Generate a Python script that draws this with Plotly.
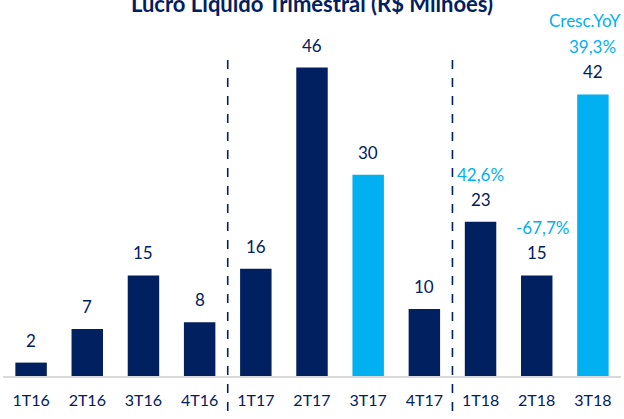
import plotly.graph_objects as go

categories = ["1T16", "2T16", "3T16", "4T16", "1T17", "2T17", "3T17", "4T17", "1T18", "2T18", "3T18"]
values = [2, 7, 15, 8, 16, 46, 30, 10, 23, 15, 42]
highlight = ["3T17", "3T18"]
yoy_cats = ["1T18", "2T18", "3T18"]
yoy_labels = ["42,6%", "-67,7%", "39,3%"]
title_text = "Lucro Líquido Trimestral (R$ Milhões)"
yoy_title = "Cresc.YoY"

NAVY = "#002060"
LIGHT = "#00B0F0"
FONT = "Lato, Calibri, 'Open Sans', sans-serif"

W, H = 624, 419
T, B = 20, 43
PLOT_BOTTOM = H - B
PLOT_H = H - T - B


def py(p):
    return (PLOT_BOTTOM - p) / PLOT_H


colors = [LIGHT if c in highlight else NAVY for c in categories]

fig = go.Figure(go.Bar(
    x=categories, y=values, marker_color=colors, marker_line_width=0,
    hoverinfo="x+y",
))

annotations = []
for c, v in zip(categories, values):
    annotations.append(dict(x=c, y=v, xref="x", yref="y", text=str(v), showarrow=False,
                            yanchor="bottom", yshift=10,
                            font=dict(family=FONT, size=17, color=NAVY)))
for c, lab in zip(yoy_cats, yoy_labels):
    v = values[categories.index(c)]
    annotations.append(dict(x=c, y=v, xref="x", yref="y", text=lab, showarrow=False,
                            yanchor="bottom", yshift=35, xshift=6 if lab.startswith("-") else 0,
                            font=dict(family=FONT, size=17, color=LIGHT)))
annotations.append(dict(x=1, xref="paper", y=py(20), yref="paper", text=yoy_title, showarrow=False,
                        xanchor="right", yanchor="middle", xshift=2,
                        font=dict(family=FONT, size=17, color=LIGHT)))
annotations.append(dict(x=0.5, xref="paper", y=py(19), yref="paper", text="<b>" + title_text + "</b>",
                        showarrow=False, xanchor="center", yanchor="bottom",
                        font=dict(family=FONT, size=22, color=NAVY)))

shapes = []
for xv in [3.5, 7.5]:
    shapes.append(dict(type="line", xref="x", yref="paper", x0=xv, x1=xv, y0=py(60), y1=py(419),
                       line=dict(color=NAVY, width=1.6, dash="dash")))

fig.update_layout(
    width=W, height=H,
    margin=dict(l=3, r=3, t=T, b=B),
    paper_bgcolor="white", plot_bgcolor="white",
    bargap=0.44,
    showlegend=False,
    annotations=annotations,
    shapes=shapes,
    font=dict(family=FONT, color=NAVY),
    xaxis=dict(showgrid=False, showline=True, linecolor="#D9D9D9", linewidth=2,
               ticks="outside", ticklen=9, tickcolor="rgba(0,0,0,0)",
               tickfont=dict(family=FONT, size=16, color=NAVY), fixedrange=True),
    yaxis=dict(visible=False, range=[0, 53.1], fixedrange=True),
)

fig.write_html("out.html", config={"displayModeBar": False},
               post_script="document.body.style.margin='0';document.body.style.overflow='hidden';")
